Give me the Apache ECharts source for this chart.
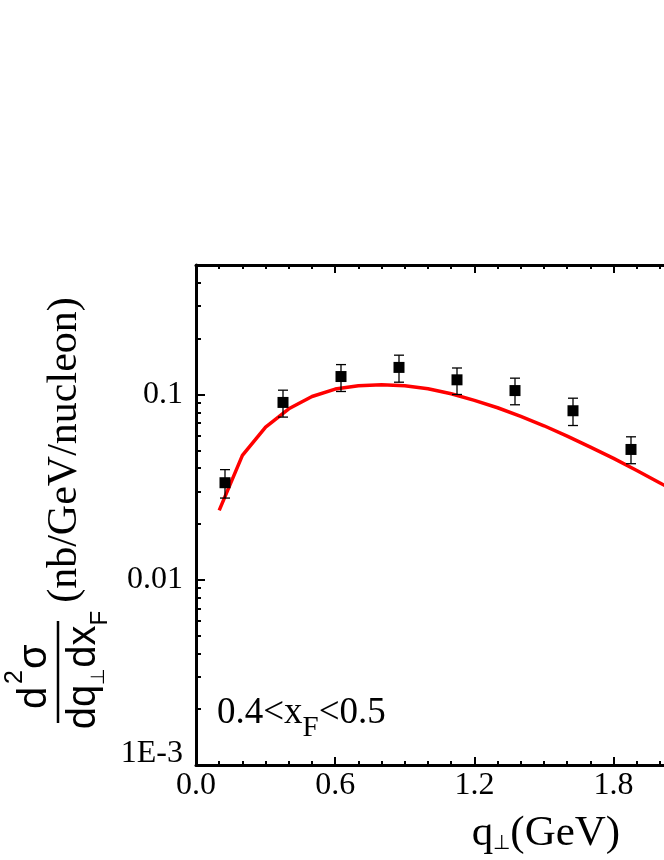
<!DOCTYPE html>
<html>
<head>
<meta charset="utf-8">
<script src="https://cdn.jsdelivr.net/npm/echarts@6.0.0/dist/echarts.min.js"></script>
<style>
  html, body { margin: 0; padding: 0; background: #fff; }
  #chart { width: 664px; height: 860px; }
</style>
</head>
<body>
<div id="chart"></div>
<script>
// measured points (q_perp in GeV, cross section) with error bar ends
const pointQ = [0.125, 0.375, 0.625, 0.875, 1.125, 1.375, 1.625, 1.875];
const pointVal = [0.0334, 0.0906, 0.125, 0.14, 0.12, 0.105, 0.0817, 0.0505];
const errLow = [0.0276, 0.0755, 0.1038, 0.1165, 0.1, 0.088, 0.068, 0.0423];
const errHigh = [0.0393, 0.1055, 0.145, 0.163, 0.139, 0.1225, 0.0955, 0.0591];

// theory curve (red)
const curveQ = [0.1, 0.2, 0.3, 0.4, 0.5, 0.6, 0.7, 0.8, 0.9, 1.0, 1.1, 1.2, 1.3, 1.4, 1.5, 1.6, 1.7, 1.8, 1.9, 2.0, 2.1];
const curveVal = [0.0237, 0.0469, 0.0667, 0.0837, 0.0975, 0.107, 0.1114, 0.1128, 0.1114, 0.1074, 0.1009,
  0.0929, 0.0848, 0.0761, 0.0678, 0.0596, 0.052, 0.0452, 0.0389, 0.0333, 0.0285];

// axis ticks
const yMajorTicks = [0.001, 0.01, 0.1];
const yMajorLabels = ["1E-3", "0.01", "0.1"];
const yMinorTicks = [0.002, 0.003, 0.004, 0.005, 0.006, 0.007, 0.008, 0.009,
  0.02, 0.03, 0.04, 0.05, 0.06, 0.07, 0.08, 0.09, 0.2, 0.3, 0.4];
const yMin = 0.001, yMax = 0.5;
const xMin = 0, xMax = 3.0, xStep = 0.6;

const SERIF = '"Liberation Serif", "Times New Roman", serif';
const SANS = '"Liberation Sans", Arial, sans-serif';

const chart = echarts.init(document.getElementById("chart"));

const axisLine = { show: true, lineStyle: { color: "#000", width: 3 } };
const majorTick = { show: true, inside: true, length: 8, lineStyle: { color: "#000", width: 2 } };
const minorTick = { show: true, splitNumber: 6, length: 4, lineStyle: { color: "#000", width: 2 } };

const option = {
  animation: false,
  backgroundColor: "#fff",
  // plot runs past the right edge of the page (cropped figure)
  grid: { left: 196, top: 265, width: 696, height: 500, containLabel: false, outerBoundsMode: "none" },
  xAxis: [
    {
      type: "value", position: "bottom", min: xMin, max: xMax, interval: xStep,
      axisLine: axisLine, axisTick: majorTick, minorTick: minorTick,
      splitLine: { show: false },
      axisLabel: {
        color: "#000", fontSize: 32, fontFamily: SERIF, margin: 5,
        formatter: (v) => v.toFixed(1),
      },
    },
    {
      type: "value", position: "top", min: xMin, max: xMax, interval: xStep,
      axisLine: axisLine, axisTick: majorTick, minorTick: minorTick,
      splitLine: { show: false },
      axisLabel: { show: false },
    },
  ],
  yAxis: [
    {
      type: "log", logBase: 10, min: yMin, max: yMax, position: "left",
      axisLine: axisLine,
      axisTick: { show: true, inside: true, length: 9, lineStyle: { color: "#000", width: 2 } },
      splitLine: { show: false },
      axisLabel: {
        color: "#000", fontSize: 32, fontFamily: SERIF, margin: 13, showMaxLabel: false,
        formatter: function (v) {
          const i = yMajorTicks.findIndex((t) => Math.abs(t - v) < t * 1e-6);
          if (i < 0) return "";
          return i === 0 ? "{lo|" + yMajorLabels[i] + "}" : yMajorLabels[i];
        },
        rich: { lo: { fontSize: 32, fontFamily: SERIF, color: "#000", padding: [0, 0, 22, 0] } },
      },
    },
    {
      // log-space helper axis only used for the 2..9 minor ticks
      type: "value", position: "left", min: Math.log10(yMin), max: Math.log10(yMax),
      axisLine: { show: false },
      axisLabel: { show: false },
      splitLine: { show: false },
      axisTick: {
        show: true, inside: true, length: 5, lineStyle: { color: "#000", width: 2 },
        customValues: yMinorTicks.map((t) => Math.log10(t)),
      },
    },
  ],
  graphic: [
    {
      // y axis title, rotated to read bottom to top
      type: "group", x: 0, y: 760, rotation: Math.PI / 2,
      children: [
        { type: "line", shape: { x1: 37, y1: 58, x2: 139, y2: 58 }, style: { stroke: "#000", lineWidth: 2.5 } },
        { type: "text", x: 51, y: 35, style: { text: "d", font: "40px " + SANS, fill: "#000", align: "left", verticalAlign: "middle" } },
        { type: "text", x: 76, y: 15, style: { text: "2", font: "25px " + SANS, fill: "#000", align: "left", verticalAlign: "middle" } },
        { type: "text", x: 91, y: 35, style: { text: "σ", font: "40px " + SANS, fill: "#000", align: "left", verticalAlign: "middle" } },
        {
          type: "text", x: 90, y: 84,
          style: {
            text: "dq{s|⊥}dx{f|F}", font: "40px " + SANS, fill: "#000", align: "center", verticalAlign: "middle",
            rich: {
              s: { fontSize: 19, fontFamily: SANS, padding: [30, 0, 0, 0] },
              f: { fontSize: 24, fontFamily: SANS, padding: [32, 0, 0, 0] },
            },
          },
        },
        { type: "text", x: 310, y: 65, style: { text: "(nb/GeV/nucleon)", font: "42px " + SERIF, fill: "#000", align: "center", verticalAlign: "middle" } },
      ],
    },
    {
      // x axis title
      type: "text", x: 546, y: 834,
      style: {
        text: "q{s|⊥}(GeV)", font: "43px " + SERIF, fill: "#000", align: "center", verticalAlign: "middle",
        rich: { s: { fontSize: 20, fontFamily: SERIF, padding: [20, 0, 0, 0] } },
      },
    },
    {
      type: "text", x: 217, y: 713,
      style: {
        text: "0.4<x{f|F}<0.5", font: "37px " + SERIF, fill: "#000", align: "left", verticalAlign: "middle",
        rich: { f: { fontSize: 29, fontFamily: SERIF, padding: [30, 0, 0, 0] } },
      },
    },
  ],
  series: [
    {
      type: "line",
      xAxisIndex: 0, yAxisIndex: 0,
      data: curveQ.map((q, i) => [q, curveVal[i]]),
      showSymbol: false,
      lineStyle: { color: "#ff0000", width: 3.5 },
      z: 2,
    },
    {
      type: "custom",
      xAxisIndex: 0, yAxisIndex: 0,
      data: pointQ.map((q, i) => [q, errLow[i], errHigh[i]]),
      encode: { x: 0, y: [1, 2] },
      renderItem: function (params, api) {
        const x = api.value(0);
        const top = api.coord([x, api.value(2)]);
        const bot = api.coord([x, api.value(1)]);
        const cap = 5;
        const style = { stroke: "#000", lineWidth: 1.3 };
        return {
          type: "group",
          children: [
            { type: "line", shape: { x1: top[0], y1: top[1], x2: bot[0], y2: bot[1] }, style: style },
            { type: "line", shape: { x1: top[0] - cap, y1: top[1], x2: top[0] + cap, y2: top[1] }, style: style },
            { type: "line", shape: { x1: bot[0] - cap, y1: bot[1], x2: bot[0] + cap, y2: bot[1] }, style: style },
          ],
        };
      },
      z: 3,
    },
    {
      type: "scatter",
      xAxisIndex: 0, yAxisIndex: 0,
      data: pointQ.map((q, i) => [q, pointVal[i]]),
      symbol: "rect",
      symbolSize: 11,
      itemStyle: { color: "#000", opacity: 1 },
      z: 4,
    },
  ],
};

chart.setOption(option);
</script>
</body>
</html>
